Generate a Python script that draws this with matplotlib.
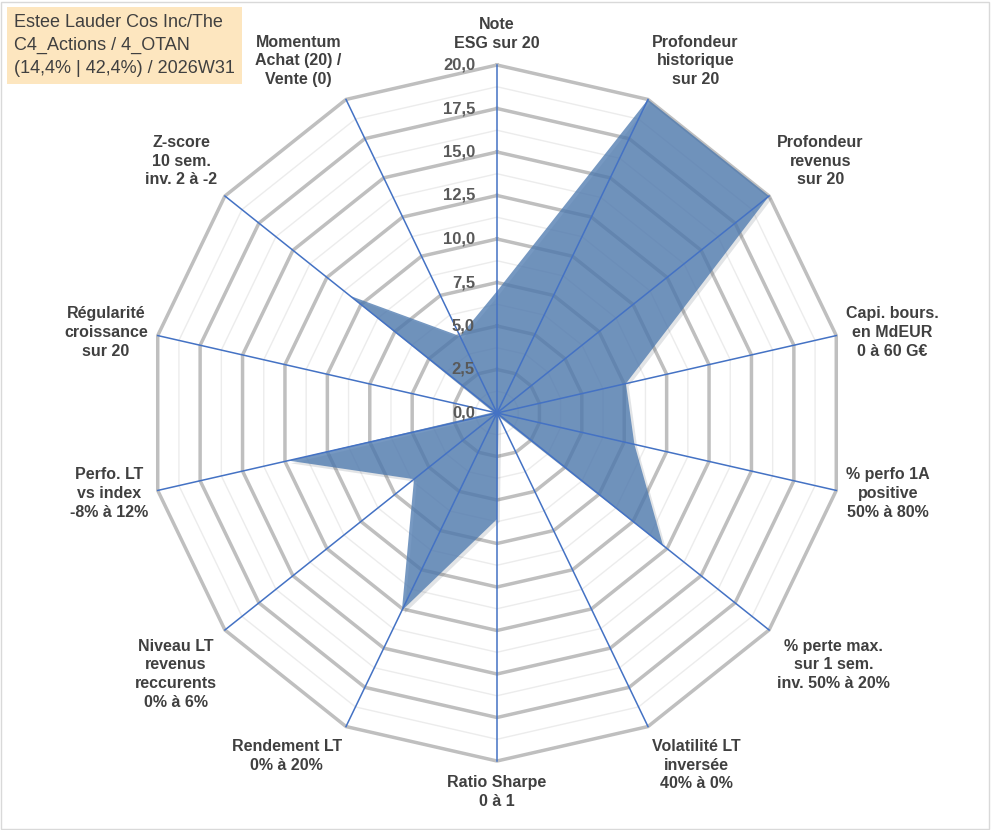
import numpy as np
import matplotlib
matplotlib.use("Agg")
import matplotlib.pyplot as plt
from matplotlib.patches import Polygon, Rectangle
import matplotlib.patheffects as pe

labels = ["Note\nESG sur 20", "Profondeur\nhistorique\nsur 20", "Profondeur\nrevenus\nsur 20",
          "Capi. bours.\nen MdEUR\n0 à 60 G€", "% perfo 1A\npositive\n50% à 80%",
          "% perte max.\nsur 1 sem.\ninv. 50% à 20%", "Volatilité LT\ninversée\n40% à 0%",
          "Ratio Sharpe\n0 à 1", "Rendement LT\n0% à 20%", "Niveau LT\nrevenus\nreccurents\n0% à 6%",
          "Perfo. LT\nvs index\n-8% à 12%", "Régularité\ncroissance\nsur 20",
          "Z-score\n10 sem.\ninv. 2 à -2", "Momentum\nAchat (20) /\nVente (0)"]
values = [7.0, 20.0, 20.0, 7.6, 8.1, 12.2, 0.2, 6.1, 12.6, 6.1, 12.3, 0.2, 10.8, 4.9]
ticks = [0, 2.5, 5, 7.5, 10, 12.5, 15, 17.5, 20]
title = "Estee Lauder Cos Inc/The\nC4_Actions / 4_OTAN\n(14,4% | 42,4%) / 2026W31"

W, H = 991, 830
cx, cy = 497, 830 - 413
R = 348.0
vmax = 20.0
n = len(labels)
ang = np.pi / 2 - np.arange(n) * 2 * np.pi / n

def xy(v, a):
    r = v / vmax * R
    return cx + r * np.cos(a), cy + r * np.sin(a)

fig = plt.figure(figsize=(W / 100, H / 100), dpi=100)
ax = fig.add_axes([0, 0, 1, 1])
ax.set_xlim(0, W); ax.set_ylim(0, H); ax.axis("off")
ax.add_patch(Rectangle((1, 1), W - 3, H - 3, fill=False, ec="#d9d9d9", lw=1))

for k in range(1, 17):
    v = k * 1.25
    pts = [xy(v, a) for a in ang] + [xy(v, ang[0])]
    xs, ys = zip(*pts)
    if k % 2 == 0:
        ax.plot(xs, ys, color="#bfbfbf", lw=2.5, zorder=1, solid_joinstyle="miter")
    else:
        ax.plot(xs, ys, color="#ececec", lw=1, zorder=1)

pts = [xy(v, a) for v, a in zip(values, ang)]
poly = Polygon(pts, closed=True, fc="#4f7bb0", ec="none", alpha=0.78, zorder=2,
               path_effects=[pe.SimplePatchShadow(offset=(2, -2), alpha=0.12), pe.Normal()])
ax.add_patch(poly)

for a in ang:
    x1, y1 = xy(vmax, a)
    ax.plot([cx, x1], [cy, y1], color="#4472c4", lw=1.1, zorder=3)

for t in ticks:
    x, y = xy(t, np.pi / 2)
    ax.text(x - 22, y, f"{t:.1f}".replace(".", ","), ha="right", va="center",
            fontsize=12, fontweight="bold", color="#595959", family="Liberation Sans", zorder=4)

for lab, a in zip(labels, ang):
    c, s = np.cos(a), np.sin(a)
    x, y = xy(vmax, a)
    x += 10 * c; y += 14 * s
    ha = "center" if abs(c) < 0.3 else ("left" if c > 0 else "right")
    va = "center" if abs(s) < 0.5 else ("bottom" if s > 0 else "top")
    if abs(c) < 0.3:
        va = "bottom" if s > 0 else "top"
    ax.text(x, y, lab, ha=ha, va=va, multialignment="center", fontsize=11.5, fontweight="bold",
            color="#404040", family="Liberation Sans", linespacing=1.3, zorder=4)

ax.text(14, H - 14, title, ha="left", va="top", fontsize=13, color="#404040",
        family="Liberation Sans", linespacing=1.45,
        bbox=dict(boxstyle="square,pad=0.4", fc="#fde6bf", ec="none"), zorder=5)

fig.savefig("out.png", dpi=100)
